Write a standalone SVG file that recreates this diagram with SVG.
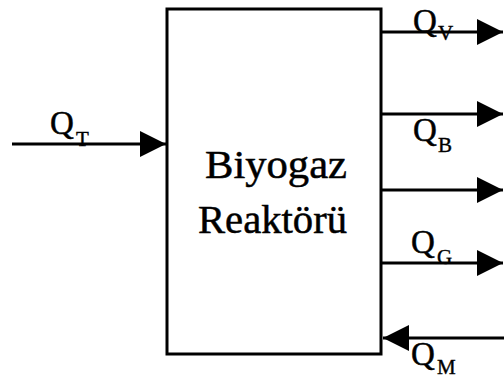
<svg xmlns="http://www.w3.org/2000/svg" width="504" height="383" viewBox="0 0 504 383">
<style>
.q{font-family:"Liberation Serif","Times New Roman",serif;font-size:33px;fill:#000;stroke:#000;stroke-width:0.5}
.s{font-family:"Liberation Serif","Times New Roman",serif;font-size:21px;fill:#000;stroke:#000;stroke-width:0.4}
.t{font-family:"Liberation Serif","Times New Roman",serif;font-size:39px;fill:#000;stroke:#000;stroke-width:0.5}
.c{stroke:#000;stroke-width:3;fill:none}
</style>
<defs>
<marker id="ah" markerUnits="userSpaceOnUse" markerWidth="26" markerHeight="26" refX="26" refY="13" orient="auto">
<path d="M0,0 L26,13 L0,26 z" fill="#000"/>
</marker>
</defs>
<rect width="504" height="383" fill="#fff"/>
<g id="reactor">
<rect x="167" y="9" width="214" height="345" fill="#fff" stroke="#000" stroke-width="3"/>
<text class="t" x="205" y="178" textLength="142" lengthAdjust="spacingAndGlyphs">Biyogaz</text>
<text class="t" x="198" y="233" textLength="149" lengthAdjust="spacingAndGlyphs">Reaktörü</text>
</g>
<g id="connectors">
<line class="c" x1="12" y1="144" x2="166" y2="144" marker-end="url(#ah)"/>
<line class="c" x1="381" y1="32" x2="503" y2="32" marker-end="url(#ah)"/>
<line class="c" x1="381" y1="114" x2="503" y2="114" marker-end="url(#ah)"/>
<line class="c" x1="381" y1="190" x2="503" y2="190" marker-end="url(#ah)"/>
<line class="c" x1="381" y1="263" x2="503" y2="263" marker-end="url(#ah)"/>
<line class="c" x1="504" y1="338" x2="383" y2="338" marker-end="url(#ah)"/>
</g>
<g id="labels">
<text class="q" x="50" y="134">Q</text><text class="s" x="76" y="146">T</text>
<text class="q" x="413" y="32">Q</text><text class="s" x="438" y="40">V</text>
<text class="q" x="413" y="141">Q</text><text class="s" x="438" y="152">B</text>
<text class="q" x="411" y="253">Q</text><text class="s" x="437" y="264">G</text>
<text class="q" x="411" y="365">Q</text><text class="s" x="437" y="374">M</text>
</g>
</svg>
